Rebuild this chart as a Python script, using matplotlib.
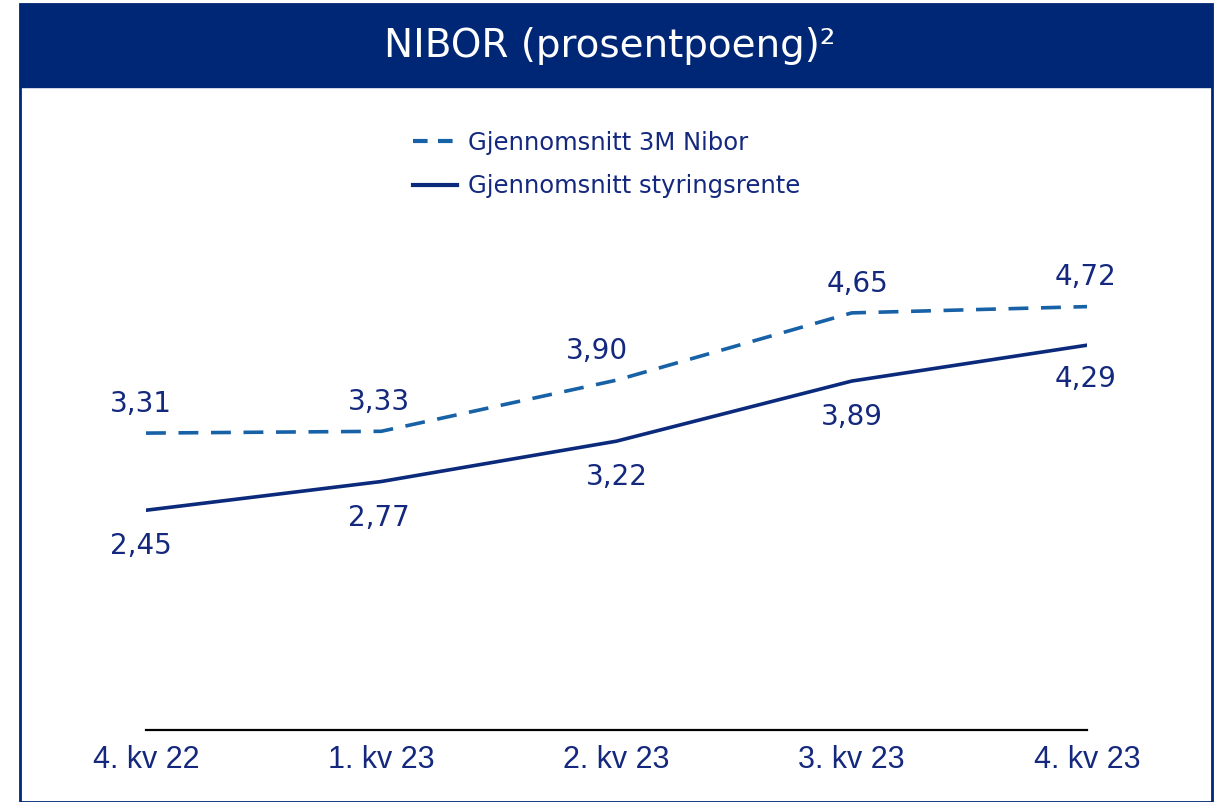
import matplotlib.pyplot as plt
from matplotlib.patches import Rectangle
from matplotlib.lines import Line2D

quarters = ['4. kv 22', '1. kv 23', '2. kv 23', '3. kv 23', '4. kv 23']
nibor = [3.31, 3.33, 3.90, 4.65, 4.72]
styringsrente = [2.45, 2.77, 3.22, 3.89, 4.29]
nibor_labels = ['3,31', '3,33', '3,90', '4,65', '4,72']
styr_labels = ['2,45', '2,77', '3,22', '3,89', '4,29']

navy = '#0b2a7c'
text_col = '#14287e'
nibor_col = '#1761a6'
title_bg = '#002776'

W, H = 1219, 802
fig = plt.figure(figsize=(W / 100, H / 100), dpi=100)
fig.patch.set_facecolor('white')

# frame and title band
fig.patches.append(Rectangle((20 / W, 0), (1212 - 20) / W, (H - 4) / H, transform=fig.transFigure,
                             facecolor='none', edgecolor=title_bg, linewidth=2))
fig.patches.append(Rectangle((20 / W, (H - 87) / H), (1212 - 20) / W, 83 / H, transform=fig.transFigure,
                             facecolor=title_bg, edgecolor=title_bg, linewidth=1))
fig.text(610 / W, (H - 46) / H, 'NIBOR (prosentpoeng)²', color='white', fontsize=28,
         family='DejaVu Sans', ha='center', va='center')

# axes: y=0 at pixel 730, ~89.7 px per unit
x0, x1 = 146, 1087
ybot, ytop = 730, 730 - 6 * 89.7
ax = fig.add_axes([x0 / W, (H - ybot) / H, (x1 - x0) / W, (ybot - ytop) / H])
ax.set_xlim(0, 4)
ax.set_ylim(0, 6)
ax.patch.set_alpha(0)

xs = list(range(len(quarters)))
ax.plot(xs, nibor, color=nibor_col, lw=2.6, dashes=(5.5, 3.5), solid_capstyle='butt',
        label='Gjennomsnitt 3M Nibor')
ax.plot(xs, styringsrente, color=navy, lw=2.6, label='Gjennomsnitt styringsrente')

# value labels
nibor_off = [(-4, 21), (-2, 21), (-14, 21), (4, 21), (-1, 21)]
styr_off = [(-4, -26), (-2, -26), (0, -26), (0, -26), (-1, -24)]
for i in xs:
    ax.annotate(nibor_labels[i], (i, nibor[i]), xytext=nibor_off[i], textcoords='offset points',
                ha='center', va='center', fontsize=20, color=text_col, family='DejaVu Sans')
    ax.annotate(styr_labels[i], (i, styringsrente[i]), xytext=styr_off[i], textcoords='offset points',
                ha='center', va='center', fontsize=20, color=text_col, family='DejaVu Sans')

for s in ['top', 'left', 'right']:
    ax.spines[s].set_visible(False)
ax.spines['bottom'].set_color('black')
ax.spines['bottom'].set_linewidth(1.6)
ax.set_yticks([])
ax.set_xticks(xs)
ax.set_xticklabels(quarters, fontsize=22, color=text_col, family='Liberation Sans')
ax.tick_params(axis='x', length=0, pad=11)

handles = [Line2D([], [], color=nibor_col, lw=3, dashes=(3.5, 2.5)),
           Line2D([], [], color=navy, lw=3)]
leg = fig.legend(handles, ['Gjennomsnitt 3M Nibor', 'Gjennomsnitt styringsrente'],
                 loc='upper left', bbox_to_anchor=(413 / W, (H - 131) / H), frameon=False,
                 prop={'family': 'DejaVu Sans', 'size': 17.5}, handlelength=1.8, handletextpad=0.45,
                 labelspacing=0.8, borderaxespad=0, borderpad=0)
for t in leg.get_texts():
    t.set_color(text_col)

plt.savefig('out.png', dpi=100)
